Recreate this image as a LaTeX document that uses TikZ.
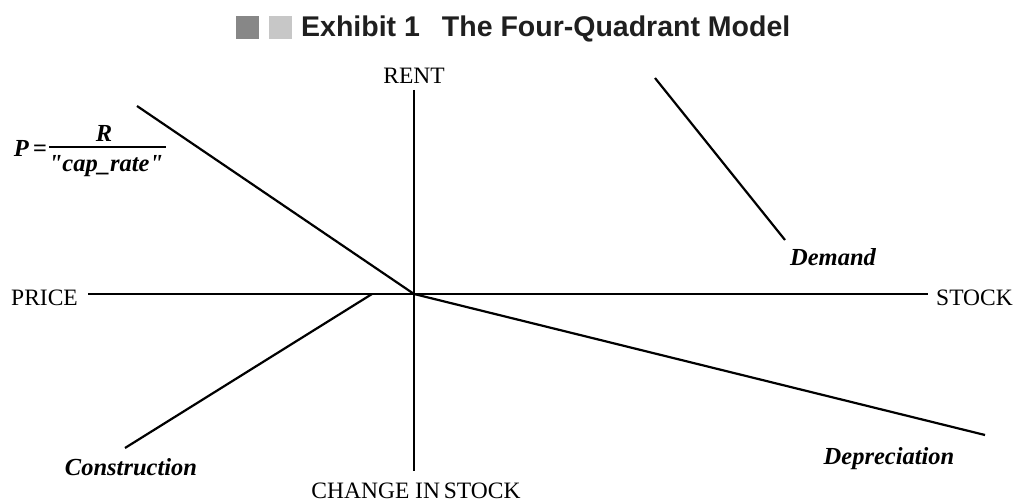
\documentclass[tikz,border=0pt]{standalone}
\usepackage{fontspec}
\setmainfont{Liberation Serif}
\newfontfamily\titlefont{Liberation Sans}
\begin{document}
\begin{tikzpicture}[x=1pt,y=-1pt,
  ax/.style={line width=2.2pt,black},
  axlabel/.style={font=\fontsize{23.5}{25}\selectfont,inner sep=0pt},
  curvelabel/.style={font=\fontsize{24.5}{26}\selectfont\bfseries\itshape,inner sep=0pt},
  sq/.style={draw=none,minimum width=23pt,minimum height=23pt,inner sep=0pt}]
\useasboundingbox (0,0) rectangle (1016,502);
% title
\node[sq,fill=black!47] (sqa) at (247,28) {};
\node[sq,fill=black!22] (sqb) at (280,28) {};
\node[anchor=west,inner sep=0pt,font=\titlefont\bfseries\fontsize{28.5}{30}\selectfont,text=black!88] (title) at (301,29) {Exhibit 1\hspace{22pt}The Four-Quadrant Model};
% axis labels
\node[axlabel] (rent) at (414,76) {RENT};
\node[axlabel] (chg) at (416,491) {CHANGE IN\kern-2pt\ STOCK};
\node[axlabel,anchor=west] (price) at (11,298) {PRICE};
\node[axlabel,anchor=east] (stock) at (1013,298) {STOCK};
% coordinates
\coordinate (O) at (414,294);
\coordinate (vtop) at (414,90);
\coordinate (vbot) at (414,471);
\coordinate (hl) at (88,294);
\coordinate (hr) at (928,294);
\coordinate (pA) at (137,106);
\coordinate (dA) at (655,78);
\coordinate (dB) at (785,240);
\coordinate (cA) at (125,448);
\coordinate (cB) at (372,294);
\coordinate (eB) at (985,435);
% axes
\draw[ax] (vtop) -- (vbot);
\draw[ax] (hl) -- (hr);
% curves
\draw[ax] (pA) -- (O);
\draw[ax] (dA) -- (dB);
\draw[ax] (cA) -- (cB);
\draw[ax] (O) -- (eB);
% curve labels
\node[curvelabel] (demand) at (833,257) {Demand};
\node[curvelabel] (constr) at (131,467) {Construction};
\node[curvelabel] (depr) at (889,459) {Depreciation};
% formula
\node[curvelabel,anchor=east] (peq) at (47,148) {P\kern4pt=};
\node[curvelabel] (num) at (104,133) {R};
\node[curvelabel] (den) at (106,166) {\textquotedbl cap\_rate\textquotedbl};
\coordinate (barL) at (49,147);
\coordinate (barR) at (166,147);
\draw[line width=1.6pt] (barL) -- (barR);
\end{tikzpicture}
\end{document}
